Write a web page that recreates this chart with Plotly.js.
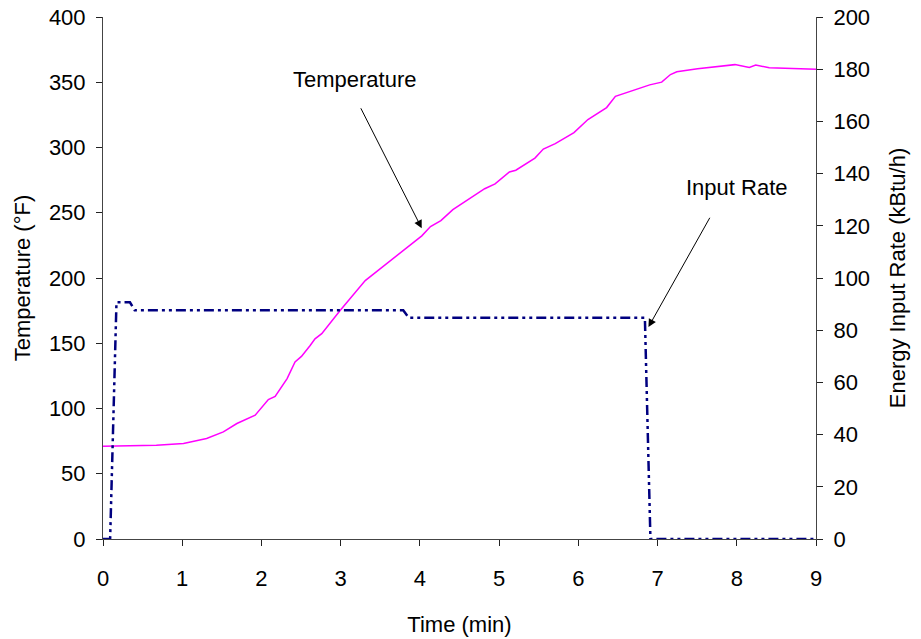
<!DOCTYPE html>
<html>
<head>
<meta charset="utf-8">
<script src="https://cdn.plot.ly/plotly-3.0.1.min.js"></script>
<style>html,body{margin:0;padding:0;background:#fff;}#chart{width:921px;height:639px;}</style>
</head>
<body>
<div id="chart"></div>
<script>
// Temperature (°F) vs time (min)
const tempTime = [0, 0.674, 1.016, 1.308, 1.519, 1.69, 1.921, 2.087, 2.173, 2.324, 2.424, 2.505, 2.615, 2.676, 2.761, 2.993, 3.31, 3.611, 4.024, 4.134, 4.265, 4.416, 4.537, 4.818, 4.949, 5.13, 5.211, 5.452, 5.558, 5.709, 5.945, 6.121, 6.357, 6.468, 6.901, 7.052, 7.163, 7.243, 7.505, 7.807, 7.977, 8.158, 8.239, 8.41, 8.762, 9.0];
const tempValues = [71.1, 71.9, 73.2, 77.0, 82.1, 88.5, 94.9, 106.8, 109.3, 122.9, 135.6, 139.9, 148.3, 153.4, 157.3, 175.1, 198.0, 212.6, 232.3, 239.4, 244.0, 252.4, 257.2, 268.4, 272.1, 281.3, 282.6, 291.9, 298.8, 303.0, 311.4, 321.4, 330.6, 339.2, 348.0, 350.1, 355.9, 358.0, 360.3, 362.4, 363.5, 361.4, 363.2, 361.1, 360.6, 360.0];

// Energy input rate (kBtu/h) vs time (min)
const rateTime = [0, 0.09, 0.17, 0.34, 0.40, 3.79, 3.86, 6.84, 6.91, 9.0];
const rateValues = [0, 0, 90.7, 90.7, 87.6, 87.6, 84.8, 84.8, 0, 0];

const xTicks = [0, 1, 2, 3, 4, 5, 6, 7, 8, 9];
const leftTicks = [0, 50, 100, 150, 200, 250, 300, 350, 400];
const rightTicks = [0, 20, 40, 60, 80, 100, 120, 140, 160, 180, 200];

const labels = ["Temperature", "Input Rate"];

const fnt = {family: "Liberation Sans, Arial, sans-serif", size: 22, color: "#000"};

const traces = [
  {x: tempTime, y: tempValues, type: "scatter", mode: "lines", name: labels[0],
   line: {color: "#ff00ff", width: 1.5}, xaxis: "x", yaxis: "y"},
  {x: rateTime, y: rateValues, type: "scatter", mode: "lines", name: labels[1],
   line: {color: "#000080", width: 2.5, dash: "10px,4px,3px,4px,3px,4px"}, xaxis: "x", yaxis: "y2"}
];

const axisCommon = {showgrid: false, zeroline: false, showline: true, linecolor: "#444", linewidth: 1,
  ticks: "outside", ticklen: 6, tickcolor: "#222", tickwidth: 1, tickfont: fnt};
const innerTicks = {showgrid: false, zeroline: false, showline: false, ticks: "inside", ticklen: 6,
  tickcolor: "#222", tickwidth: 1, showticklabels: false};

const layout = {
  width: 921, height: 639,
  margin: {l: 103, r: 105, t: 17, b: 100},
  paper_bgcolor: "#fff", plot_bgcolor: "#fff",
  showlegend: false,
  font: fnt,
  xaxis: Object.assign({}, axisCommon, {range: [0, 9], tickvals: xTicks, ticklabelstandoff: 14,
    title: {text: "Time (min)", font: fnt, standoff: 26}}),
  yaxis: Object.assign({}, axisCommon, {range: [0, 400], tickvals: leftTicks, ticklabelstandoff: 6,
    title: {text: "Temperature (°F)", font: fnt, standoff: 12}}),
  yaxis2: Object.assign({}, axisCommon, {range: [0, 200], tickvals: rightTicks, overlaying: "y", side: "right",
    ticklabelstandoff: 6, title: {text: "Energy Input Rate (kBtu/h)", font: fnt, standoff: 20}}),
  xaxis2: Object.assign({}, innerTicks, {range: [0, 9], tickvals: xTicks, overlaying: "x", anchor: "y", side: "bottom"}),
  yaxis3: Object.assign({}, innerTicks, {range: [0, 400], tickvals: leftTicks, overlaying: "y", anchor: "x", side: "left"}),
  yaxis4: Object.assign({}, innerTicks, {range: [0, 200], tickvals: rightTicks, overlaying: "y", anchor: "x", side: "right"}),
  annotations: [
    {x: 3.175, y: 351.8, xref: "x", yref: "y", text: labels[0], showarrow: false, font: fnt},
    {x: 4.023, y: 238.1, xref: "x", yref: "y", ax: 3.245, ay: 331.2, axref: "x", ayref: "y", text: "",
     showarrow: true, arrowhead: 2, arrowsize: 1.6, arrowwidth: 1, arrowcolor: "#000"},
    {x: 8.005, y: 269.2, xref: "x", yref: "y", text: labels[1], showarrow: false, font: fnt},
    {x: 6.885, y: 162.4, xref: "x", yref: "y", ax: 7.67, ay: 247.3, axref: "x", ayref: "y", text: "",
     showarrow: true, arrowhead: 2, arrowsize: 1.6, arrowwidth: 1, arrowcolor: "#000"}
  ]
};

Plotly.newPlot("chart", traces, layout, {displayModeBar: false, staticPlot: true});
</script>
</body>
</html>
